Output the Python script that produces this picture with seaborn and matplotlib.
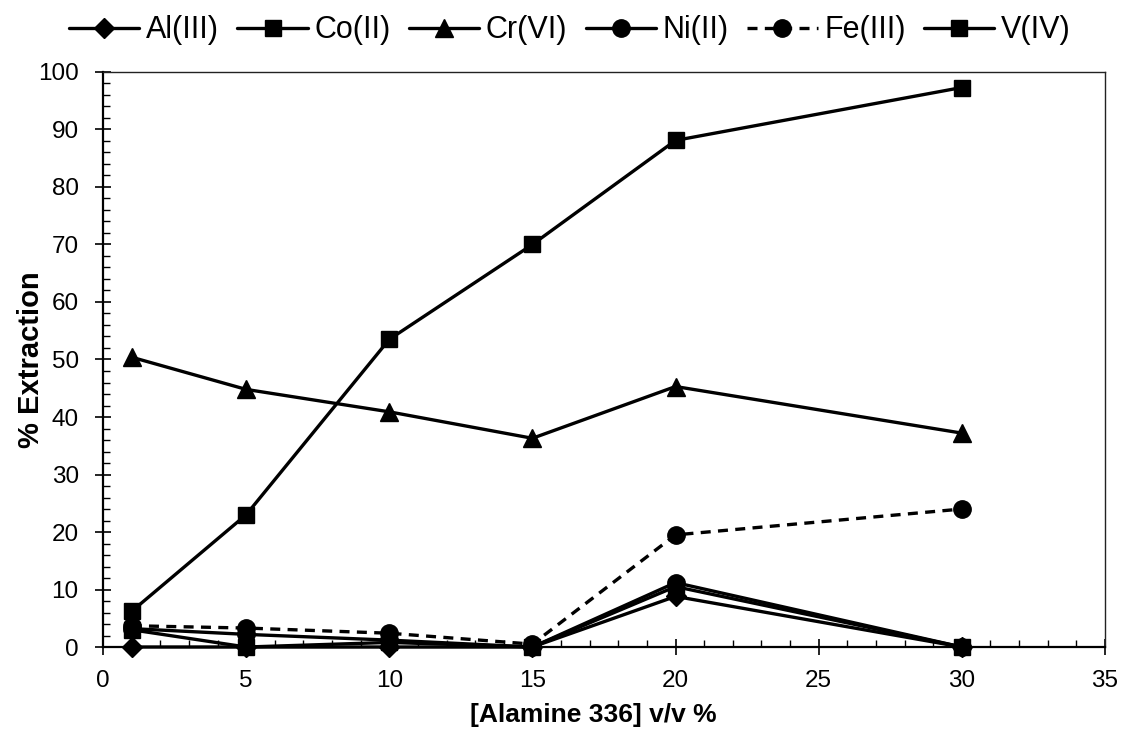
import matplotlib
matplotlib.use("Agg")
import matplotlib.pyplot as plt
from matplotlib.ticker import MultipleLocator
import seaborn as sns
import pandas as pd

# Alamine 336 concentration (v/v %)
conc = [1, 5, 10, 15, 20, 30]

# % extraction of each metal ion
al_iii = [0.0, 0.0, 0.0, 0.0, 8.8, 0.0]
co_ii = [6.2, 23.0, 53.5, 70.0, 88.1, 97.3]
cr_vi = [50.4, 44.8, 40.9, 36.3, 45.3, 37.2]
ni_ii = [3.2, 2.2, 1.2, 0.0, 11.2, 0.0]
fe_iii = [3.7, 3.3, 2.4, 0.5, 19.5, 24.0]
v_iv = [3.0, 0.0, 0.8, 0.0, 10.5, 0.0]

series_names = ["Al(III)", "Co(II)", "Cr(VI)", "Ni(II)", "Fe(III)", "V(IV)"]
series_values = [al_iii, co_ii, cr_vi, ni_ii, fe_iii, v_iv]
markers = ["D", "s", "^", "o", "o", "s"]
marker_sizes = [10.0, 12.0, 12.5, 12.5, 12.5, 12.0]
dashes = ["-", "-", "-", "-", (0, (3, 2.2)), "-"]

sns.set_theme(style="white")
plt.rcParams["font.family"] = ["Liberation Sans", "DejaVu Sans"]
plt.rcParams.update({"text.color": "black", "axes.labelcolor": "black",
                     "xtick.color": "black", "ytick.color": "black"})

fig = plt.figure(figsize=(11.22, 7.33), dpi=100)
ax = fig.add_axes([0.0918, 0.1173, 0.893, 0.7845])

for name, vals, mk, ms, ls in zip(series_names, series_values, markers, marker_sizes, dashes):
    df = pd.DataFrame({"conc": conc, "ext": vals})
    sns.lineplot(data=df, x="conc", y="ext", ax=ax, color="black",
                 marker=mk, markersize=ms, markeredgecolor="black",
                 linewidth=2.4, linestyle=ls, label=name, clip_on=False,
                 markeredgewidth=1)

ax.set_xlim(0, 35)
ax.set_ylim(0, 100)
ax.xaxis.set_major_locator(MultipleLocator(5))
ax.xaxis.set_minor_locator(MultipleLocator(1))
ax.yaxis.set_major_locator(MultipleLocator(10))
ax.yaxis.set_minor_locator(MultipleLocator(2))

ax.tick_params(axis="both", which="major", direction="inout", length=11,
               width=1.2, color="black", labelsize=17.5,
               bottom=True, left=True, top=False, right=False)
ax.tick_params(axis="y", which="major", pad=12)
ax.tick_params(axis="x", which="major", pad=11)
ax.tick_params(axis="both", which="minor", direction="in", length=5,
               width=1.0, color="black", bottom=True, left=True,
               top=False, right=False)

for side in ["left", "bottom"]:
    ax.spines[side].set_color("black")
    ax.spines[side].set_linewidth(1.6)
for side in ["top", "right"]:
    ax.spines[side].set_color("#222222")
    ax.spines[side].set_linewidth(1.0)

ax.set_xlabel("[Alamine 336] v/v %", fontsize=19, fontweight="bold")
ax.set_ylabel("% Extraction", fontsize=21, fontweight="bold")
ax.xaxis.set_label_coords(0.489, -0.097)
ax.yaxis.set_label_coords(-0.058, 0.5)

handles, labels = ax.get_legend_handles_labels()
ax.legend(handles, labels, loc="upper center", bbox_to_anchor=(0.508, 1.0),
          bbox_transform=fig.transFigure, ncol=6, frameon=False,
          fontsize=22, handlelength=2.3, handletextpad=0.22,
          columnspacing=0.6, borderaxespad=0.1)

fig.savefig("out.png", dpi=100)
